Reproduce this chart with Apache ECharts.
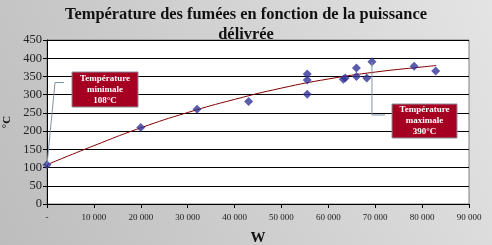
<!DOCTYPE html>
<html><head><meta charset="utf-8">
<script src="https://cdn.jsdelivr.net/npm/echarts@6/dist/echarts.min.js"></script>
<style>html,body{margin:0;padding:0;}#c{width:492px;height:245px;}</style>
</head><body><div id="c"></div>
<script>
var titleText = 'Température des fumées en fonction de la puissance\ndélivrée';
var xName = 'W';
var yName = '°C';
var xTicks = [0, 10000, 20000, 30000, 40000, 50000, 60000, 70000, 80000, 90000];
var yTicks = [0, 50, 100, 150, 200, 250, 300, 350, 400, 450];
var powerW = [0, 20000, 32000, 43000, 55500, 55500, 55500, 63200, 63600, 66000, 66000, 68200, 69300, 78300, 82900];
var tempC  = [108, 210, 260, 281, 357, 340, 301, 342, 346, 373, 350, 346, 390, 378, 365];
var trendX = [0, 10000, 20000, 30000, 40000, 50000, 60000, 70000, 80000, 83000];
var trendY = [108, 160, 209, 251, 287, 318, 343, 362, 376, 380];
var minLabel = 'Température\nminimale\n108°C';
var maxLabel = 'Température\nmaximale\n390°C';

var chart = echarts.init(document.getElementById('c'), null, {renderer: 'canvas'});
var serif = '"Liberation Serif", "DejaVu Serif", serif';
var opt = {
  animation: false,
  backgroundColor: new echarts.graphic.LinearGradient(0, 1, 1, 0, [
    {offset: 0, color: '#bdbdbd'}, {offset: 1, color: '#e4e4e4'}
  ]),
  title: {
    text: titleText, left: 'center', top: 0,
    textStyle: {fontFamily: serif, fontWeight: 'bold', fontSize: 16.4, color: '#111', lineHeight: 20}
  },
  grid: {left: 47, right: 23, top: 40, bottom: 41, containLabel: false, outerBoundsMode: 'none',
         show: true, backgroundColor: '#ffffff', borderColor: '#808080', borderWidth: 1},
  xAxis: {
    type: 'value', min: xTicks[0], max: xTicks[xTicks.length - 1], interval: 10000,
    name: xName, nameLocation: 'middle', nameGap: 27,
    nameTextStyle: {fontFamily: serif, fontWeight: 'bold', fontSize: 15, color: '#111'},
    axisLine: {show: true, lineStyle: {color: '#000', width: 1}},
    axisTick: {show: true, length: 4, inside: false, lineStyle: {color: '#000'}},
    splitLine: {show: false},
    axisLabel: {
      fontFamily: serif, fontSize: 9, color: '#222', margin: 9,
      formatter: function (v) { return v === 0 ? '-' : String(v).replace(/\B(?=(\d{3})+(?!\d))/g, ' '); }
    }
  },
  yAxis: {
    type: 'value', min: yTicks[0], max: yTicks[yTicks.length - 1], interval: 50,
    name: yName, nameLocation: 'middle', nameGap: 28, nameRotate: 90,
    nameTextStyle: {fontFamily: serif, fontWeight: 'bold', fontSize: 11, color: '#111'},
    axisLine: {show: true, lineStyle: {color: '#000', width: 1}},
    axisTick: {show: true, length: 4, lineStyle: {color: '#000'}},
    splitLine: {show: true, lineStyle: {color: '#000', width: 1}},
    axisLabel: {fontFamily: serif, fontSize: 12.5, color: '#222', margin: 5}
  },
  series: [
    {
      type: 'line', data: trendX.map(function (x, i) { return [x, trendY[i]]; }),
      smooth: true, showSymbol: false, lineStyle: {color: '#800000', width: 1}, z: 2
    },
    {
      type: 'scatter', data: powerW.map(function (x, i) { return [x, tempC[i]]; }),
      symbol: 'diamond', symbolSize: 9, itemStyle: {color: '#333399'}, z: 3
    }
  ]
};
chart.setOption(opt);

var pMin = chart.convertToPixel({gridIndex: 0}, [powerW[0], tempC[0]]);
var iMax = tempC.indexOf(Math.max.apply(null, tempC));
var pMax = chart.convertToPixel({gridIndex: 0}, [powerW[iMax], tempC[iMax]]);
var boxStyle = {fill: '#a50021', stroke: '#8c8c9c', lineWidth: 1};
var txtStyle = {fill: '#fff', font: 'bold 9px ' + serif, align: 'center', verticalAlign: 'middle', lineHeight: 11};
chart.setOption({
  graphic: [
    {type: 'polyline', shape: {points: [pMin, [55, 82.5], [64, 82.5]]}, style: {stroke: '#8094a8', lineWidth: 1, fill: null}, z: 10},
    {type: 'rect', shape: {x: 72, y: 72, width: 66, height: 35}, style: boxStyle, z: 10},
    {type: 'text', x: 105, y: 89.5, style: Object.assign({text: minLabel}, txtStyle), z: 11},
    {type: 'polyline', shape: {points: [pMax, [pMax[0], 115], [385, 115]]}, style: {stroke: '#8094a8', lineWidth: 1, fill: null}, z: 10},
    {type: 'rect', shape: {x: 392, y: 104, width: 65, height: 34}, style: boxStyle, z: 10},
    {type: 'text', x: 424.5, y: 121, style: Object.assign({text: maxLabel}, txtStyle), z: 11}
  ]
});
</script>
</body></html>
